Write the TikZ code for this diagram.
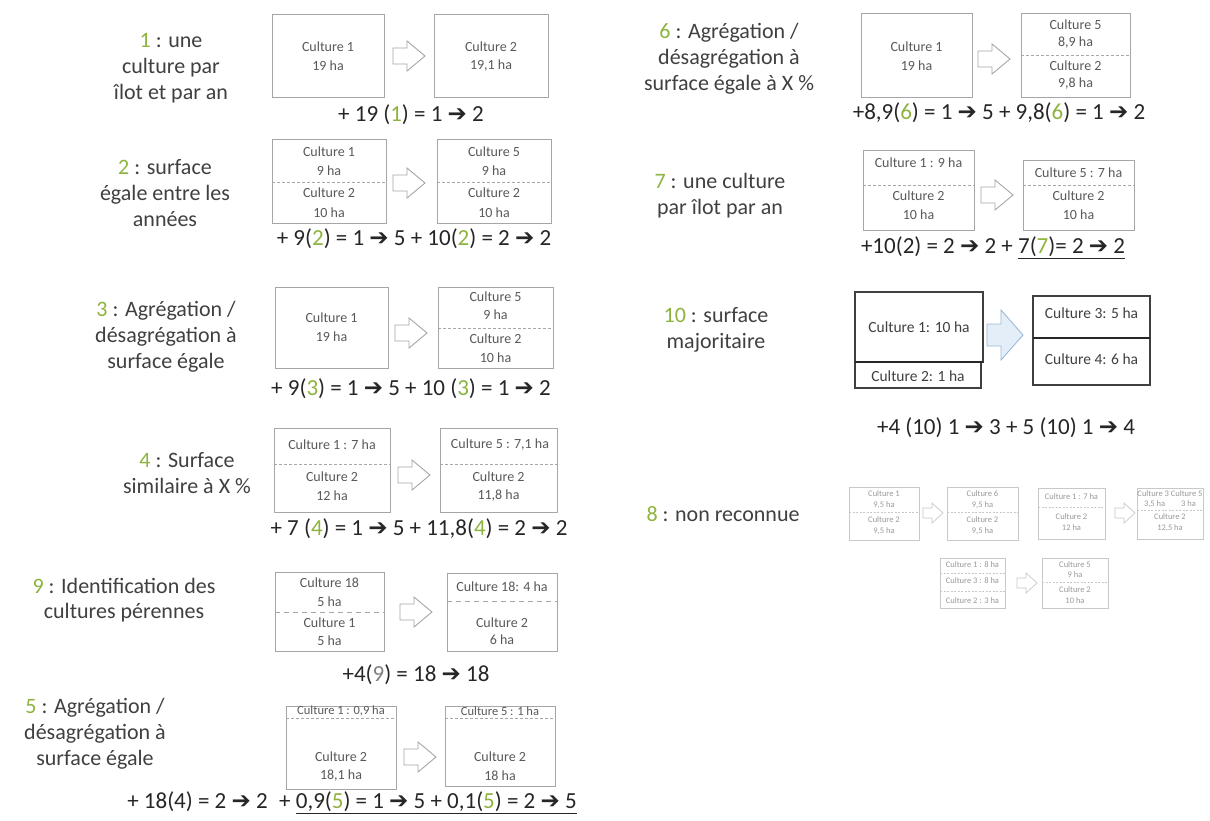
\documentclass[tikz,border=0pt]{standalone}
\usepackage{fontspec}
\setmainfont{Carlito}
\newfontfamily\djv{DejaVu Sans}
\definecolor{grn}{HTML}{8DB43E}
\definecolor{lblc}{HTML}{404040}
\definecolor{btc}{HTML}{595959}
\definecolor{boxc}{HTML}{A6A6A6}
\definecolor{eqc}{HTML}{262626}
\definecolor{pale}{HTML}{C8C8C8}
\definecolor{paletxt}{HTML}{9A9A9A}
\definecolor{blu}{HTML}{E4EEF8}
\definecolor{bluedge}{HTML}{9DB9D6}
\newcommand\ar{{\djv\char"2794}}
\newcommand\g[1]{{\color{grn}#1}}
\newcommand\barr[2]{\draw[barrow] (#1,#2) ++(0,-8) -- ++(14,0) -- ++(0,-7) -- ++(18,15) -- ++(-18,15) -- ++(0,-7) -- ++(-14,0) -- cycle;}
\newcommand\sarr[2]{\draw[sarrow] (#1,#2) ++(0,-5) -- ++(9,0) -- ++(0,-5) -- ++(11,10) -- ++(-11,10) -- ++(0,-5) -- ++(-9,0) -- cycle;}
\tikzset{
  box/.style={draw=boxc, line width=0.9pt, inner sep=0pt, outer sep=0pt},
  bt/.style={text=btc, font=\fontsize{14}{16}\selectfont, inner sep=0pt},
  lbl/.style={text=lblc, font=\fontsize{22}{26}\selectfont, align=center, inner sep=0pt},
  eqn/.style={text=eqc, font=\fontsize{23}{27}\selectfont, inner sep=0pt},
  dl/.style={draw=boxc, line width=0.7pt, dash pattern=on 3pt off 2pt},
  barrow/.style={draw=boxc, line width=0.9pt, fill=white, line join=miter},
  sarrow/.style={draw=pale, line width=0.7pt, fill=white},
  darkbox/.style={draw=lblc, line width=1.1pt, inner sep=0pt, outer sep=0pt},
  thick10/.style={draw=black!85, line width=2pt},
  bt10/.style={text=lblc, font=\fontsize{15.5}{18}\selectfont, inner sep=0pt},
  pbox/.style={draw=pale, line width=0.6pt, inner sep=0pt, outer sep=0pt},
  pt8/.style={text=paletxt, font=\fontsize{8.5}{10}\selectfont, inner sep=0pt},
  pdl/.style={draw=pale, line width=0.5pt, dash pattern=on 2pt off 1.5pt},
}
\begin{document}
\begin{tikzpicture}[x=1pt, y=-1pt]
\useasboundingbox (0,0) rectangle (1210,820);
\fill[white] (0,0) rectangle (1210,820);

% ---------- 1
\node[lbl] (l1) at (171,68) {\g{1} : une\\culture par\\îlot et par an};
\node[box, minimum width=112pt, minimum height=83pt] (b1a) at (328,55.5) {};
\node[bt] (t1a1) at (328,47) {Culture 1};
\node[bt] (t1a2) at (328,66) {19 ha};
\barr{393}{56}
\node[box, minimum width=114pt, minimum height=83pt] (b1b) at (491,55.5) {};
\node[bt] (t1b1) at (491,47) {Culture 2};
\node[bt] (t1b2) at (491,66) {19,1 ha};
\node[eqn] (e1) at (411,115) {+ 19 (\g{1}) = 1 \ar{} 2};

% ---------- 2
\node[lbl] (l2) at (165,193) {\g{2} : surface\\égale entre les\\années};
\node[box, minimum width=114pt, minimum height=84pt] (b2a) at (329,181) {};
\draw[dl] (b2a.west |- 0,182) -- (b2a.east |- 0,182);
\node[bt] (t2a1) at (329,152) {Culture 1};
\node[bt] (t2a2) at (329,171) {9 ha};
\node[bt] (t2a3) at (329,193) {Culture 2};
\node[bt] (t2a4) at (329,213) {10 ha};
\barr{393}{183}
\node[box, minimum width=114pt, minimum height=84pt] (b2b) at (494,181) {};
\draw[dl] (b2b.west |- 0,182) -- (b2b.east |- 0,182);
\node[bt] (t2b1) at (494,152) {Culture 5};
\node[bt] (t2b2) at (494,171) {9 ha};
\node[bt] (t2b3) at (494,193) {Culture 2};
\node[bt] (t2b4) at (494,213) {10 ha};
\node[eqn] (e2) at (414,239) {+ 9(\g{2}) = 1 \ar{} 5 + 10(\g{2}) = 2 \ar{} 2};

% ---------- 3
\node[lbl] (l3) at (166,337) {\g{3} : Agrégation /\\désagrégation à\\surface égale};
\node[box, minimum width=113pt, minimum height=81pt] (b3a) at (331.5,327.5) {};
\node[bt] (t3a1) at (331.5,318) {Culture 1};
\node[bt] (t3a2) at (331.5,337) {19 ha};
\barr{395}{333}
\node[box, minimum width=115pt, minimum height=81pt] (b3b) at (495.5,327.5) {};
\draw[dl] (b3b.west |- 0,328) -- (b3b.east |- 0,328);
\node[bt] (t3b1) at (495.5,297) {Culture 5};
\node[bt] (t3b2) at (495.5,315) {9 ha};
\node[bt] (t3b3) at (495.5,339) {Culture 2};
\node[bt] (t3b4) at (495.5,358) {10 ha};
\node[eqn] (e3) at (411,389) {+ 9(\g{3}) = 1 \ar{} 5 + 10 (\g{3}) = 1 \ar{} 2};

% ---------- 4
\node[lbl] (l4) at (187,473) {\g{4} : Surface\\similaire à X \%};
\node[box, minimum width=116pt, minimum height=84pt] (b4a) at (332,470) {};
\draw[dl] (b4a.west |- 0,464) -- (b4a.east |- 0,464);
\node[bt] (t4a1) at (332,445) {Culture 1 : 7 ha};
\node[bt] (t4a2) at (332,477) {Culture 2};
\node[bt] (t4a3) at (332,496) {12 ha};
\barr{398}{475}
\node[box, minimum width=117pt, minimum height=84pt] (b4b) at (498.5,470) {};
\draw[dl] (b4b.west |- 0,464) -- (b4b.east |- 0,464);
\node[bt] (t4b1) at (500,445) {Culture 5 : 7,1 ha};
\node[bt] (t4b2) at (498.5,477) {Culture 2};
\node[bt] (t4b3) at (498.5,496) {11,8 ha};
\node[eqn] (e4) at (419,529) {+ 7 (\g{4}) = 1 \ar{} 5 + 11,8(\g{4}) = 2 \ar{} 2};

% ---------- 9
\node[lbl, font=\fontsize{22}{25}\selectfont] (l9) at (124,600) {\g{9} : Identification des\\cultures pérennes};
\node[box, minimum width=109pt, minimum height=79pt] (b9a) at (329.5,611.5) {};
\draw[dl, dash pattern=on 5pt off 4pt] (b9a.west |- 0,612) -- (b9a.east |- 0,612);
\node[bt] (t9a1) at (329.5,583) {Culture 18};
\node[bt] (t9a2) at (329.5,602) {5 ha};
\node[bt] (t9a3) at (329.5,623) {Culture 1};
\node[bt] (t9a4) at (329.5,641) {5 ha};
\barr{400}{612}
\node[box, minimum width=110pt, minimum height=78pt] (b9b) at (502,612) {};
\draw[dl, dash pattern=on 5pt off 4pt] (b9b.west |- 0,601) -- (b9b.east |- 0,601);
\node[bt] (t9b1) at (502,587) {Culture 18: 4 ha};
\node[bt] (t9b2) at (502,623) {Culture 2};
\node[bt] (t9b3) at (502,640) {6 ha};
\node[eqn] (e9) at (416,675) {+4({\color{gray}9}) = 18 \ar{} 18};

% ---------- 5
\node[lbl] (l5) at (95,734) {\g{5} : Agrégation /\\désagrégation à\\surface égale};
\node[box, minimum width=110pt, minimum height=83pt] (b5a) at (341,747.5) {};
\draw[dl] (b5a.west |- 0,718) -- (b5a.east |- 0,718);
\node[bt, font=\fontsize{12.5}{14}\selectfont] (t5a1) at (341,711) {Culture 1 : 0,9 ha};
\node[bt] (t5a2) at (341,757) {Culture 2};
\node[bt] (t5a3) at (341,776) {18,1 ha};
\barr{404}{757}
\node[box, minimum width=110pt, minimum height=80pt] (b5b) at (500,746) {};
\draw[dl] (b5b.west |- 0,718) -- (b5b.east |- 0,718);
\node[bt, font=\fontsize{12.5}{14}\selectfont] (t5b1) at (500,711) {Culture 5 : 1 ha};
\node[bt] (t5b2) at (500,757) {Culture 2};
\node[bt] (t5b3) at (500,776) {18 ha};
\node[eqn] (e5) at (352,803) {+ 18(4) = 2 \ar{} 2\enspace + \underline{0,9(\g{5}) = 1 \ar{} 5 + 0,1(\g{5}) = 2 \ar{} 5}};

% ---------- 6
\node[lbl] (l6) at (729,59) {\g{6} : Agrégation /\\désagrégation à\\surface égale à X \%};
\node[box, minimum width=111pt, minimum height=84pt] (b6a) at (916.5,55) {};
\node[bt] (t6a1) at (916.5,47) {Culture 1};
\node[bt] (t6a2) at (916.5,66) {19 ha};
\barr{978}{59}
\node[box, minimum width=109pt, minimum height=84pt] (b6b) at (1075.5,55) {};
\draw[dl] (b6b.west |- 0,55) -- (b6b.east |- 0,55);
\node[bt] (t6b1) at (1075.5,25) {Culture 5};
\node[bt] (t6b2) at (1075.5,43) {8,9 ha};
\node[bt] (t6b3) at (1075.5,66) {Culture 2};
\node[bt] (t6b4) at (1075.5,84) {9,8 ha};
\node[eqn] (e6) at (999,113) {+8,9(\g{6}) = 1 \ar{} 5 + 9,8(\g{6}) = 1 \ar{} 2};

% ---------- 7
\node[lbl] (l7) at (720,196) {\g{7} : une culture\\par îlot par an};
\node[box, minimum width=111pt, minimum height=80pt] (b7a) at (918.5,190) {};
\draw[dl] (b7a.west |- 0,185) -- (b7a.east |- 0,185);
\node[bt] (t7a1) at (918.5,163) {Culture 1 : 9 ha};
\node[bt] (t7a2) at (918.5,196) {Culture 2};
\node[bt] (t7a3) at (918.5,215) {10 ha};
\barr{981}{195}
\node[box, minimum width=111pt, minimum height=70pt] (b7b) at (1078.5,195) {};
\draw[dl] (b7b.west |- 0,185) -- (b7b.east |- 0,185);
\node[bt] (t7b1) at (1078.5,173) {Culture 5 : 7 ha};
\node[bt] (t7b2) at (1078.5,196) {Culture 2};
\node[bt] (t7b3) at (1078.5,215) {10 ha};
\node[eqn] (e7) at (993,248) {+10(2) = 2 \ar{} 2 + \underline{7(\g{7})= 2 \ar{} 2}};

% ---------- 10
\node[lbl] (l10) at (716,330) {\g{10} : surface\\majoritaire};
\node[darkbox, minimum width=128pt, minimum height=70pt] (b10a) at (919,327) {};
\node[darkbox, minimum width=126pt, minimum height=26pt] (b10c) at (918,375) {};
\draw[thick10] (b10a.south west) -- (b10a.south east);
\node[bt10] (t10a) at (919,327) {Culture 1: 10 ha};
\node[bt10] (t10c) at (918,376) {Culture 2: 1 ha};
\draw[draw=bluedge, fill=blu, line width=0.9pt] (987,335) ++(0,-11) -- ++(14,0) -- ++(0,-14) -- ++(22,25) -- ++(-22,25) -- ++(0,-14) -- ++(-14,0) -- cycle;
\node[darkbox, minimum width=117pt, minimum height=42pt] (b10b) at (1091.5,317) {};
\node[darkbox, minimum width=117pt, minimum height=47pt] (b10d) at (1091.5,361.5) {};
\draw[thick10] (b10b.south west) -- (b10b.south east);
\node[bt10] (t10b) at (1091.5,313) {Culture 3: 5 ha};
\node[bt10] (t10d) at (1091.5,359) {Culture 4: 6 ha};
\node[eqn] (e10) at (1006,428) {+4 (10) 1 \ar{} 3 + 5 (10) 1 \ar{} 4};

% ---------- 8
\node[lbl] (l8) at (723,514) {\g{8} : non reconnue};
\node[pbox, minimum width=70pt, minimum height=53pt] (p1) at (884,513.5) {};
\draw[pdl] (p1.west |- 0,512) -- (p1.east |- 0,512);
\node[pt8] (p1t1) at (884,494) {Culture 1};
\node[pt8] (p1t2) at (884,505) {9,5 ha};
\node[pt8] (p1t3) at (884,520) {Culture 2};
\node[pt8] (p1t4) at (884,531) {9,5 ha};
\sarr{923}{513}
\node[pbox, minimum width=71pt, minimum height=53pt] (p2) at (982.5,513.5) {};
\draw[pdl] (p2.west |- 0,512) -- (p2.east |- 0,512);
\node[pt8] (p2t1) at (982.5,494) {Culture 6};
\node[pt8] (p2t2) at (982.5,505) {9,5 ha};
\node[pt8] (p2t3) at (982.5,520) {Culture 2};
\node[pt8] (p2t4) at (982.5,531) {9,5 ha};
\node[pbox, minimum width=67pt, minimum height=51pt] (p3) at (1071.5,513.5) {};
\draw[pdl] (p3.west |- 0,507) -- (p3.east |- 0,507);
\node[pt8] (p3t1) at (1071.5,497) {Culture 1 : 7 ha};
\node[pt8] (p3t2) at (1071.5,517) {Culture 2};
\node[pt8] (p3t3) at (1071.5,528) {12 ha};
\sarr{1115}{513}
\node[pbox, minimum width=66pt, minimum height=51pt] (p4) at (1170,513.5) {};
\draw[pdl] (p4.west |- 0,510) -- (p4.east |- 0,510);
\node[pt8] (p4t1) at (1170,494) {Culture 3 Culture 5};
\node[pt8] (p4t2) at (1170,504) {3,5 ha\hspace{16pt}3 ha};
\node[pt8] (p4t3) at (1170,517) {Culture 2};
\node[pt8] (p4t4) at (1170,528) {12,5 ha};
\node[pbox, minimum width=65pt, minimum height=50pt] (q1) at (972.5,583) {};
\draw[pdl] (q1.west |- 0,573) -- (q1.east |- 0,573);
\draw[pdl] (q1.west |- 0,591) -- (q1.east |- 0,591);
\node[pt8] (q1t1) at (972.5,565) {Culture 1 : 8 ha};
\node[pt8] (q1t2) at (972.5,581) {Culture 3 : 8 ha};
\node[pt8] (q1t3) at (972.5,601) {Culture 2 : 3 ha};
\sarr{1017}{583}
\node[pbox, minimum width=66pt, minimum height=50pt] (q2) at (1075,583) {};
\draw[pdl] (q2.west |- 0,582) -- (q2.east |- 0,582);
\node[pt8] (q2t1) at (1075,565) {Culture 5};
\node[pt8] (q2t2) at (1075,575) {9 ha};
\node[pt8] (q2t3) at (1075,590) {Culture 2};
\node[pt8] (q2t4) at (1075,601) {10 ha};
\end{tikzpicture}
\end{document}
